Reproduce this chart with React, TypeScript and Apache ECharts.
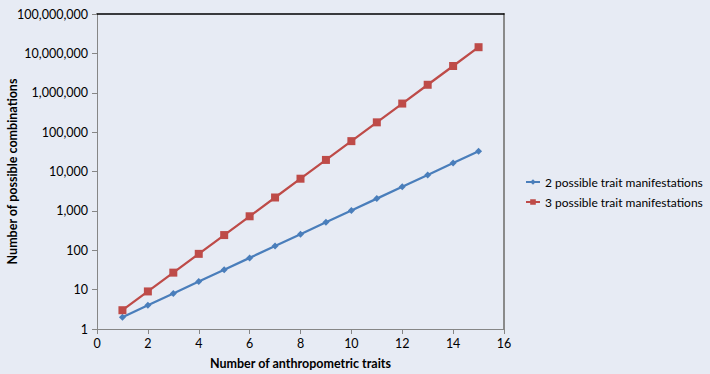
import React, { useEffect, useRef } from "react";
import * as echarts from "echarts";

const traits = [1, 2, 3, 4, 5, 6, 7, 8, 9, 10, 11, 12, 13, 14, 15];
const twoManifest = [2, 4, 8, 16, 32, 64, 128, 256, 512, 1024, 2048, 4096, 8192, 16384, 32768];
const threeManifest = [3, 9, 27, 81, 243, 729, 2187, 6561, 19683, 59049, 177147, 531441, 1594323, 4782969, 14348907];
const seriesNames = ["2 possible trait manifestations", "3 possible trait manifestations"];
const xTitle = "Number of anthropometric traits";
const yTitle = "Number of possible combinations";

const FONT = "Lato";

export default function App() {
  const ref = useRef<HTMLDivElement>(null);
  useEffect(() => {
    if (!ref.current) return;
    const chart = echarts.init(ref.current, undefined, { renderer: "svg" });
    const pair = (xs: number[], ys: number[]) => xs.map((x, i) => [x, ys[i]]);
    chart.setOption({
      animation: false,
      backgroundColor: "#e7ebf4",
      textStyle: { fontFamily: FONT },
      grid: { left: 97, right: 206, top: 14, bottom: 45, containLabel: false, outerBoundsMode: "none" },
      legend: {
        orient: "vertical",
        left: 520,
        top: 171,
        itemGap: 8,
        itemWidth: 14,
        itemHeight: 7,
        textStyle: { fontFamily: FONT, fontSize: 12, color: "#000" },
        data: seriesNames,
      },
      xAxis: [
        {
          type: "value",
          min: 0,
          max: 16,
          interval: 2,
          name: xTitle,
          nameLocation: "middle",
          nameGap: 28,
          nameMoveOverlap: false,
          nameTextStyle: { fontFamily: FONT, fontSize: 12.5, fontWeight: "bold", color: "#000" },
          axisLine: { lineStyle: { color: "#868686", width: 1 } },
          axisTick: { show: true, length: 5, lineStyle: { color: "#868686" } },
          axisLabel: { fontFamily: FONT, fontSize: 12.5, color: "#000", margin: 8 },
          splitLine: { show: false },
        },
        {
          type: "value",
          position: "top",
          min: 0,
          max: 16,
          axisLine: { show: true, onZero: false, lineStyle: { color: "#000", width: 1.5 } },
          axisTick: { show: false },
          axisLabel: { show: false },
          splitLine: { show: false },
        },
      ],
      yAxis: [
        {
          type: "log",
          logBase: 10,
          min: 1,
          max: 100000000,
          name: yTitle,
          nameLocation: "middle",
          nameGap: 78,
          nameMoveOverlap: false,
          nameTextStyle: { fontFamily: FONT, fontSize: 12.5, fontWeight: "bold", color: "#000" },
          axisLine: { show: true, lineStyle: { color: "#868686", width: 1 } },
          axisTick: { show: true, length: 5, lineStyle: { color: "#868686" } },
          axisLabel: {
            fontFamily: FONT,
            fontSize: 12.5,
            color: "#000",
            margin: 9,
            formatter: (v: number) => Math.round(v).toLocaleString("en-US"),
          },
          splitLine: { show: false },
        },
        {
          type: "log",
          logBase: 10,
          min: 1,
          max: 100000000,
          position: "right",
          axisLine: { show: true, onZero: false, lineStyle: { color: "#8a8a8a", width: 2 } },
          axisTick: { show: false },
          axisLabel: { show: false },
          splitLine: { show: false },
        },
      ],
      series: [
        {
          name: seriesNames[0],
          type: "line",
          data: pair(traits, twoManifest),
          symbol: "diamond",
          symbolSize: 7,
          color: "#4a7ebb",
          lineStyle: { color: "#4a7ebb", width: 2.25 },
          itemStyle: { color: "#4a7ebb" },
        },
        {
          name: seriesNames[1],
          type: "line",
          data: pair(traits, threeManifest),
          symbol: "rect",
          symbolSize: 8,
          color: "#be4b48",
          lineStyle: { color: "#be4b48", width: 2.25 },
          itemStyle: { color: "#be4b48" },
        },
      ],
    });
    return () => chart.dispose();
  }, []);
  return <div ref={ref} style={{ width: 710, height: 374, position: "absolute", left: 0, top: 0 }} />;
}
